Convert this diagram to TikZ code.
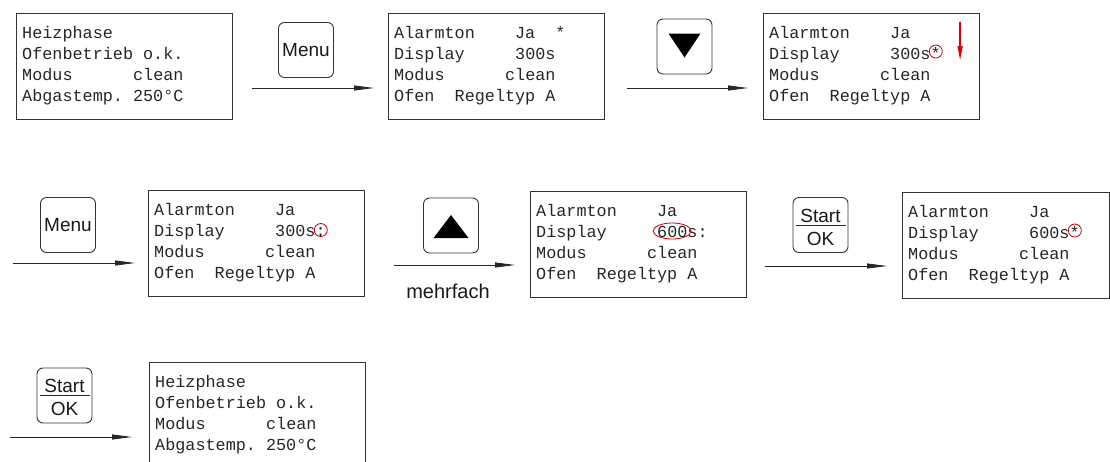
\documentclass[tikz,border=0pt]{standalone}
\usepackage{fontspec}
\setmainfont{Liberation Sans}
\newfontfamily\lcdfont{Liberation Mono}
\usetikzlibrary{arrows.meta,calc,shapes.geometric}

% four text lines of one display, placed from its top left corner
\newcommand\lcdtext[5]{%
  \node[lcd] (#1-1) at ($(#1.north west)+(6,25)$) {#2};
  \node[lcd] (#1-2) at ($(#1.north west)+(6,46)$) {#3};
  \node[lcd] (#1-3) at ($(#1.north west)+(6,67)$) {#4};
  \node[lcd] (#1-4) at ($(#1.north west)+(6,88)$) {#5};}

\begin{document}
\begin{tikzpicture}[x=1pt,y=-1pt,
  screen/.style={draw=black!80, line width=1.1pt, anchor=north west, inner sep=0pt,
                 minimum width=216pt, minimum height=106pt},
  lcd/.style={anchor=base west, inner sep=0pt,
              font=\lcdfont\fontsize{16.8}{20}\selectfont, text=black!85},
  key/.style={draw=black!80, line width=0.9pt, rounded corners=6pt,
              minimum width=55pt, minimum height=55pt, inner sep=0pt},
  keylabel/.style={font=\fontsize{19}{20}\selectfont, inner sep=0pt, text=black!90},
  flow/.style={draw=black!85, line width=0.8pt, -{Triangle[length=20pt,width=5pt]}},
  hilite/.style={draw=red!80!black, line width=0.8pt, circle, minimum size=13pt, inner sep=0pt},
  redarrow/.style={draw=red!85!black, line width=1.3pt, -{Triangle[length=14pt,width=5pt]}},
]
\useasboundingbox (0,0) rectangle (1110,461);

% ---------- displays ----------
\node[screen] (d1) at (16,13) {};
\lcdtext{d1}{Heizphase}{Ofenbetrieb~o.k.}{Modus~~~~~~clean}{Abgastemp.~250°C}

\node[screen] (d2) at (388,13) {};
\lcdtext{d2}{Alarmton~~~~Ja~~*}{Display~~~~~300s}{Modus~~~~~~clean}{Ofen~~Regeltyp~A}

\node[screen] (d3) at (763,13) {};
\lcdtext{d3}{Alarmton~~~~Ja}{Display~~~~~300s*}{Modus~~~~~~clean}{Ofen~~Regeltyp~A}
\node[hilite] (c3) at ($(d3-2.base west)+(166.8,-7.5)$) {};
\coordinate (r1a) at ($(d3.north east)+(-20,9)$);
\coordinate (r1b) at ($(d3.north east)+(-20,47)$);
\draw[redarrow] (r1a) -- (r1b);

\node[screen] (d4) at (148,190) {};
\lcdtext{d4}{Alarmton~~~~Ja}{Display~~~~~300s:}{Modus~~~~~~clean}{Ofen~~Regeltyp~A}
\node[hilite] (c4) at ($(d4-2.base west)+(166.8,-6)$) {};

\node[screen] (d5) at (530,191) {};
\lcdtext{d5}{Alarmton~~~~Ja}{Display~~~~~600s:}{Modus~~~~~~clean}{Ofen~~Regeltyp~A}
\node[draw=red!80!black, line width=0.8pt, ellipse, minimum width=38pt, minimum height=16pt, inner sep=0pt]
  (c5) at ($(d5-2.base west)+(136.1,-6)$) {};

\node[screen, minimum width=206.5pt] (d6) at (902,192) {};
\lcdtext{d6}{Alarmton~~~~Ja}{Display~~~~~600s*}{Modus~~~~~~clean}{Ofen~~Regeltyp~A}
\node[hilite] (c6) at ($(d6-2.base west)+(166.8,-7.5)$) {};

\node[screen] (d7) at (149,362) {};
\lcdtext{d7}{Heizphase}{Ofenbetrieb~o.k.}{Modus~~~~~~clean}{Abgastemp.~250°C}

% ---------- keys ----------
\node[key, keylabel] (k1) at (306,50) {Menu};

\node[key] (k2) at (684.5,46.5) {};
\fill[black] ($(k2.center)+(-16,-13)$) -- ($(k2.center)+(16,-13)$) -- ($(k2.center)+(0,11)$) -- cycle;

\node[key, keylabel] (k3) at (68,225) {Menu};

\node[key] (k4) at (451,225.5) {};
\fill[black] ($(k4.center)+(-17.5,12.5)$) -- ($(k4.center)+(17.5,12.5)$) -- ($(k4.center)+(0,-10.5)$) -- cycle;

\node[key] (k5) at (820.5,225) {};
\node[keylabel, anchor=base] (k5a) at ($(k5.center)+(0,-3)$) {Start};
\draw[black!85, line width=0.9pt] ($(k5.center)+(-25,0)$) -- ($(k5.center)+(25,0)$);
\node[keylabel, anchor=base] (k5b) at ($(k5.center)+(0,20)$) {OK};

\node[key] (k6) at (64.5,395.5) {};
\node[keylabel, anchor=base] (k6a) at ($(k6.center)+(0,-3)$) {Start};
\draw[black!85, line width=0.9pt] ($(k6.center)+(-25,0)$) -- ($(k6.center)+(25,0)$);
\node[keylabel, anchor=base] (k6b) at ($(k6.center)+(0,20)$) {OK};

\node[font=\fontsize{20}{22}\selectfont, inner sep=0pt, text=black!90] (m1) at (448,291) {mehrfach};

% ---------- transitions ----------
\coordinate (f1) at (252,88);
\draw[flow] (f1) -- ($(f1 -| d2.west)+(-14,0)$);
\coordinate (f2) at (627,88);
\draw[flow] (f2) -- ($(f2 -| d3.west)+(-15,0)$);
\coordinate (f3) at (13,263);
\draw[flow] (f3) -- ($(f3 -| d4.west)+(-13,0)$);
\coordinate (f4) at (394,265);
\draw[flow] (f4) -- ($(f4 -| d5.west)+(-15,0)$);
\coordinate (f5) at (765,266);
\draw[flow] (f5) -- ($(f5 -| d6.west)+(-15,0)$);
\coordinate (f6) at (10,437);
\draw[flow] (f6) -- ($(f6 -| d7.west)+(-17,0)$);
\end{tikzpicture}
\end{document}
